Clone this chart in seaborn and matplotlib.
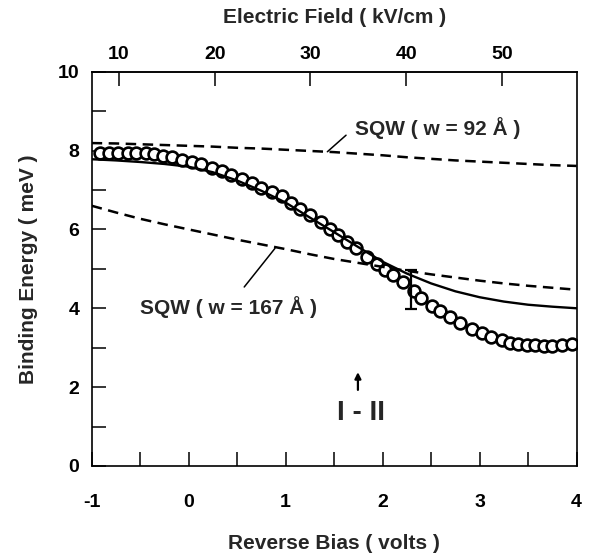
import numpy as np
import pandas as pd
import matplotlib
matplotlib.use("Agg")
import matplotlib.pyplot as plt
import seaborn as sns

# ---------------- data ----------------
# measured binding energy (open circles)
bias_exp = [-0.91, -0.82, -0.73, -0.63, -0.54, -0.44, -0.36, -0.26, -0.17, -0.07,
            0.03, 0.13, 0.24, 0.34, 0.44, 0.55, 0.65, 0.75, 0.86, 0.96,
            1.05, 1.15, 1.25, 1.36, 1.46, 1.54, 1.63, 1.73, 1.84, 1.94,
            2.02, 2.11, 2.21, 2.32, 2.40, 2.51, 2.59, 2.69, 2.80, 2.92,
            3.02, 3.12, 3.23, 3.31, 3.40, 3.49, 3.57, 3.66, 3.75, 3.85, 3.95]
energy_exp = [7.94, 7.94, 7.95, 7.95, 7.94, 7.94, 7.91, 7.87, 7.83, 7.77,
              7.72, 7.66, 7.57, 7.47, 7.39, 7.28, 7.18, 7.05, 6.96, 6.84,
              6.67, 6.52, 6.36, 6.18, 6.01, 5.86, 5.69, 5.53, 5.31, 5.12,
              4.98, 4.84, 4.66, 4.44, 4.25, 4.06, 3.92, 3.78, 3.62, 3.48,
              3.37, 3.26, 3.19, 3.13, 3.10, 3.07, 3.06, 3.05, 3.05, 3.06, 3.09]

# theory curves
bias_th = [-1.0, -0.75, -0.5, -0.25, 0.0, 0.25, 0.5, 0.75, 1.0, 1.25, 1.5,
           1.75, 2.0, 2.25, 2.5, 2.75, 3.0, 3.25, 3.5, 3.75, 4.0]
energy_solid = [7.78, 7.75, 7.71, 7.66, 7.59, 7.45, 7.24, 6.98, 6.68, 6.30, 5.93,
                5.55, 5.18, 4.88, 4.63, 4.43, 4.28, 4.17, 4.09, 4.04, 4.00]
energy_sqw92 = [8.19, 8.18, 8.16, 8.14, 8.12, 8.10, 8.07, 8.05, 8.02, 7.99, 7.96,
                7.92, 7.88, 7.83, 7.79, 7.75, 7.72, 7.69, 7.66, 7.63, 7.61]
energy_sqw167 = [6.60, 6.43, 6.27, 6.13, 6.00, 5.87, 5.74, 5.62, 5.50, 5.37, 5.25,
                 5.15, 5.05, 4.95, 4.86, 4.78, 4.70, 4.63, 4.57, 4.52, 4.47]

# single error bar
err_bias = [2.29]
err_energy = [4.48]
err_half = [0.50]

# tick labels
bias_ticks = [-1, 0, 1, 2, 3, 4]
field_ticks = [10, 20, 30, 40, 50]
energy_ticks = [0, 2, 4, 6, 8, 10]

# ---------------- style ----------------
sns.set_theme(style="ticks")
plt.rcParams["font.family"] = ["Liberation Sans", "DejaVu Sans"]
plt.rcParams["font.weight"] = "bold"
plt.rcParams["axes.labelweight"] = "bold"

fig = plt.figure(figsize=(5.93, 5.58), dpi=100)
ax = fig.add_axes([0.1546, 0.1649, 0.8178, 0.7066])

df_exp = pd.DataFrame({"bias": bias_exp, "energy": energy_exp})
df_th = pd.DataFrame({"bias": bias_th, "solid": energy_solid,
                      "sqw92": energy_sqw92, "sqw167": energy_sqw167})

sns.scatterplot(data=df_exp, x="bias", y="energy", ax=ax, marker="o", s=72,
                facecolor="white", edgecolor="black", linewidth=1.9, zorder=2,
                legend=False)
sns.lineplot(data=df_th, x="bias", y="solid", ax=ax, color="black", lw=1.7,
             sort=False, estimator=None, zorder=3)
sns.lineplot(data=df_th, x="bias", y="sqw92", ax=ax, color="black", lw=1.8,
             sort=False, estimator=None, zorder=3)
ax.lines[-1].set_linestyle((0, (4.2, 2.6)))
sns.lineplot(data=df_th, x="bias", y="sqw167", ax=ax, color="black", lw=1.8,
             sort=False, estimator=None, zorder=3)
ax.lines[-1].set_linestyle((0, (4.2, 2.6)))

ax.errorbar(err_bias, err_energy, yerr=err_half, fmt="none", ecolor="black",
            elinewidth=1.6, capsize=4, capthick=1.6, zorder=4)

ax.set_xlim(-1, 4)
ax.set_ylim(0, 10)
ax.set_xticks(bias_ticks)
ax.set_xticklabels([str(t) for t in bias_ticks])
ax.set_xticks(np.arange(-0.5, 4, 1.0), minor=True)
ax.set_yticks(energy_ticks)
ax.set_yticklabels([str(t) for t in energy_ticks])
ax.set_yticks([1, 3, 5, 7, 9], minor=True)

for sp in ax.spines.values():
    sp.set_linewidth(1.2)
    sp.set_color("black")
    sp.set_visible(True)

ax.tick_params(axis="x", which="both", direction="in", length=10, width=1.1,
               pad=20, labelsize=14, colors="black", top=False)
ax.tick_params(axis="y", which="both", direction="in", length=10, width=1.1,
               pad=9, labelsize=14, colors="black", right=False)
for lab in ax.get_xticklabels() + ax.get_yticklabels():
    lab.set_fontweight("bold")

ax.set_xlabel("Reverse Bias ( volts )", fontsize=15, fontweight="bold", labelpad=17)
ax.set_ylabel("Binding Energy ( meV )", fontsize=15, fontweight="bold", labelpad=14)

# top axis: electric field
def b2f(v):
    return 10 + 10.13 * (np.asarray(v) + 0.719)

def f2b(f):
    return (np.asarray(f) - 10) / 10.13 - 0.719

sec = ax.secondary_xaxis("top", functions=(b2f, f2b))
sec.set_xticks(field_ticks)
sec.set_xticklabels([str(t) for t in field_ticks])
sec.tick_params(axis="x", direction="in", length=10, width=1.1, pad=6,
                labelsize=14, colors="black")
for lab in sec.get_xticklabels():
    lab.set_fontweight("bold")
sec.spines["top"].set_linewidth(1.2)
sec.set_xlabel("Electric Field ( kV/cm )", fontsize=15, fontweight="bold", labelpad=17)

# annotations
ax.annotate("SQW ( w = 92 Å )", xy=(1.43, 7.97), xytext=(1.71, 8.58),
            ha="left", va="center", fontsize=15, fontweight="bold",
            arrowprops=dict(arrowstyle="-", color="black", lw=1.1,
                            shrinkA=5, shrinkB=0, relpos=(0, 0.5)))
ax.annotate("SQW ( w = 167 Å )", xy=(0.89, 5.52), xytext=(0.41, 4.04),
            ha="center", va="center", fontsize=15, fontweight="bold",
            arrowprops=dict(arrowstyle="-", color="black", lw=1.1,
                            shrinkA=5, shrinkB=0, relpos=(0.55, 1.0)))
ax.annotate("", xy=(1.745, 2.38), xytext=(1.745, 1.93),
            arrowprops=dict(arrowstyle="-|>", color="black", lw=1.6,
                            mutation_scale=9, shrinkA=0, shrinkB=0))
ax.text(1.78, 1.35, "I - II", ha="center", va="center", fontsize=20,
        fontweight="bold")

fig.savefig("out.png", dpi=100)
